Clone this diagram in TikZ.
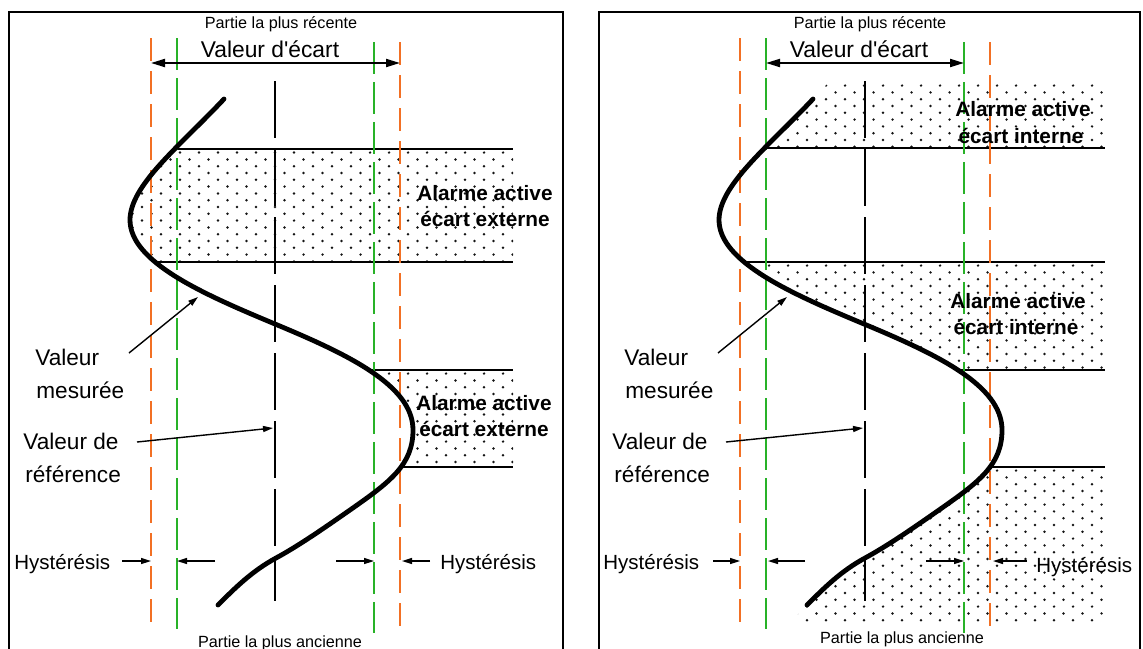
\documentclass[tikz,border=0pt]{standalone}
\usepackage{fontspec}
\setmainfont{Liberation Sans}
\usetikzlibrary{arrows.meta}
\definecolor{orng}{RGB}{242,112,36}
\definecolor{grn}{RGB}{40,178,40}
\definecolor{dotc}{RGB}{20,20,20}

\newcommand{\curveplot}{(224,99) .. controls (180,146) and (130,185) .. (130,220)
  .. controls (130,262) and (203,294) .. (275,324)
  .. controls (347,354) and (413,385) .. (413,430)
  .. controls (413,465) and (390,482) .. (350,510)
  .. controls (327,526) and (300,545) .. (276,558)
  .. controls (252,571) and (235,588) .. (218,605)}

\newcommand{\mydotfield}[4]{%
  \begin{scope}
    \clip (#1,#2) rectangle (#3,#4);
    \pgfmathtruncatemacro{\myrows}{(#4-#2)/6.8+1}%
    \pgfmathtruncatemacro{\mycols}{(#3-#1)/19+1}%
    \foreach \j in {0,...,\myrows}{%
      \pgfmathsetmacro{\myy}{#2+3.6+6.8*\j}%
      \pgfmathsetmacro{\myx}{#1+4+mod(\j,2)*9.5}%
      \foreach \i in {0,...,\mycols}{%
        \fill[dotc] (\myx+19*\i,\myy) circle[radius=0.68pt];
      }%
    }%
  \end{scope}%
}

\tikzset{
  frame/.style={line width=1.35pt},
  curve/.style={line width=2.4pt, line cap=round, line join=round},
  orline/.style={orng, line width=0.85pt, dash pattern=on 11.5pt off 5pt},
  grline/.style={grn, line width=0.7pt, dash pattern=on 16pt off 4pt},
  refline/.style={line width=1pt, dash pattern=on 28.5pt off 5.5pt},
  bandline/.style={line width=0.85pt},
  dimarrow/.style={line width=1pt, {Triangle[length=7pt,width=4pt]}-{Triangle[length=7pt,width=4pt]}},
  lblarrow/.style={line width=0.7pt, -{Triangle[length=5pt,width=3pt]}},
  small/.style={font=\fontsize{8.1}{10}\selectfont, inner sep=0pt, anchor=base},
  big/.style={font=\fontsize{11.4}{14}\selectfont, inner sep=0pt, anchor=base},
  lbl/.style={font=\fontsize{11.3}{14}\selectfont, inner sep=0pt, anchor=base west},
  hys/.style={font=\fontsize{10.25}{12}\selectfont, inner sep=0pt, anchor=base west},
  alarm/.style={font=\bfseries\fontsize{10.4}{13}\selectfont, inner sep=0pt, anchor=base},
}

\begin{document}
\begin{tikzpicture}[x=0.5pt,y=-0.5pt]
\useasboundingbox (0,0) rectangle (1143,648);
\fill[white] (0,0) rectangle (1143,648);

% ================= LEFT PANEL =================
\draw[frame] (9,12) rectangle (563,690);
\begin{scope}
  \clip \curveplot -- (202,622) -- (530,622) -- (530,82) -- (240,82) -- cycle;
  \mydotfield{100}{149}{513}{262}
  \mydotfield{100}{370}{513}{467}
  \draw[bandline] (100,149) -- (513,149);
  \draw[bandline] (100,262) -- (513,262);
  \draw[bandline] (100,370) -- (513,370);
  \draw[bandline] (100,467) -- (513,467);
\end{scope}
\draw[orline] (151,38) -- (151,629);
\draw[grline] (177,38) -- (177,629);
\draw[grline] (374,42) -- (374,633);
\draw[orline] (400,42) -- (400,633);
\draw[refline] (275,81) -- (275,601);
\draw[curve] \curveplot;

\node[small] (Ltop) at (281,28.5) {Partie la plus récente};
\node[big] (Lecart) at (270,57) {Valeur d\textquotesingle écart};
\coordinate (LdA) at (151,63); \coordinate (LdB) at (400,63);
\draw[dimarrow] (LdA) -- (LdB);

\node[alarm] (La1) at (485,200) {Alarme active};
\node[alarm] (La2) at (485,226) {écart externe};
\node[alarm] (La3) at (484,410) {Alarme active};
\node[alarm] (La4) at (484,436) {écart externe};

\node[lbl] (Lvm1) at (35,365) {Valeur};
\node[lbl] (Lvm2) at (36,398) {mesurée};
\coordinate (LvmA) at (129,353); \coordinate (LvmB) at (198,297);
\draw[lblarrow] (LvmA) -- (LvmB);
\node[lbl] (Lvr1) at (23,449) {Valeur de};
\node[lbl] (Lvr2) at (25,482) {référence};
\coordinate (LvrA) at (137,442); \coordinate (LvrB) at (273,428);
\draw[lblarrow] (LvrA) -- (LvrB);

\node[hys] (Lh1) at (14,569) {Hystérésis};
\node[hys] (Lh2) at (440,569) {Hystérésis};
\coordinate (Lh1a) at (122,561); \coordinate (Lh1b) at (151,561);
\coordinate (Lh2a) at (215,561); \coordinate (Lh2b) at (177,561);
\coordinate (Lh3a) at (336,561); \coordinate (Lh3b) at (374,561);
\coordinate (Lh4a) at (430,561); \coordinate (Lh4b) at (402,561);
\draw[lblarrow] (Lh1a) -- (Lh1b);
\draw[lblarrow] (Lh2a) -- (Lh2b);
\draw[lblarrow] (Lh3a) -- (Lh3b);
\draw[lblarrow] (Lh4a) -- (Lh4b);
\node[small] (Lbot) at (280,647) {Partie la plus ancienne};

% ================= RIGHT PANEL =================
\begin{scope}[shift={(589,0)}]
\draw[frame] (10,12) rectangle (551,690);
\begin{scope}
  \clip \curveplot -- (202,622) -- (530,622) -- (530,82) -- (240,82) -- cycle;
  \mydotfield{100}{82}{515}{148}
  \mydotfield{100}{262}{515}{370}
  \mydotfield{100}{467}{515}{622}
  \draw[bandline] (100,148) -- (516,148);
  \draw[bandline] (100,262) -- (516,262);
  \draw[bandline] (100,370) -- (516,370);
  \draw[bandline] (100,467) -- (516,467);
\end{scope}
\draw[orline] (151,38) -- (151,629);
\draw[grline] (177,38) -- (177,629);
\draw[grline] (375,42) -- (375,633);
\draw[orline] (401,42) -- (401,633);
\draw[refline] (276,81) -- (276,601);
\draw[curve] \curveplot;

\node[small] (Rtop) at (281,28.5) {Partie la plus récente};
\node[big] (Recart) at (270,57) {Valeur d\textquotesingle écart};
\coordinate (RdA) at (177,63); \coordinate (RdB) at (375,63);
\draw[dimarrow] (RdA) -- (RdB);

\node[alarm] (Ra1) at (434,116) {Alarme active};
\node[alarm] (Ra2) at (432,143) {écart interne};
\node[alarm] (Ra3) at (429,308) {Alarme active};
\node[alarm] (Ra4) at (427,334) {écart interne};

\node[lbl] (Rvm1) at (35,365) {Valeur};
\node[lbl] (Rvm2) at (36,398) {mesurée};
\coordinate (RvmA) at (129,353); \coordinate (RvmB) at (198,297);
\draw[lblarrow] (RvmA) -- (RvmB);
\node[lbl] (Rvr1) at (23,449) {Valeur de};
\node[lbl] (Rvr2) at (25,482) {référence};
\coordinate (RvrA) at (137,442); \coordinate (RvrB) at (274,428);
\draw[lblarrow] (RvrA) -- (RvrB);

\node[hys] (Rh1) at (14,569) {Hystérésis};
\node[hys] (Rh2) at (447,572) {Hystérésis};
\coordinate (Rh1a) at (124,561); \coordinate (Rh1b) at (151,561);
\coordinate (Rh2a) at (216,561); \coordinate (Rh2b) at (179,561);
\coordinate (Rh3a) at (337,561); \coordinate (Rh3b) at (375,561);
\coordinate (Rh4a) at (438,561); \coordinate (Rh4b) at (404,561);
\draw[lblarrow] (Rh1a) -- (Rh1b);
\draw[lblarrow] (Rh2a) -- (Rh2b);
\draw[lblarrow] (Rh3a) -- (Rh3b);
\draw[lblarrow] (Rh4a) -- (Rh4b);
\node[small] (Rbot) at (313,643) {Partie la plus ancienne};
\end{scope}
\end{tikzpicture}
\end{document}
